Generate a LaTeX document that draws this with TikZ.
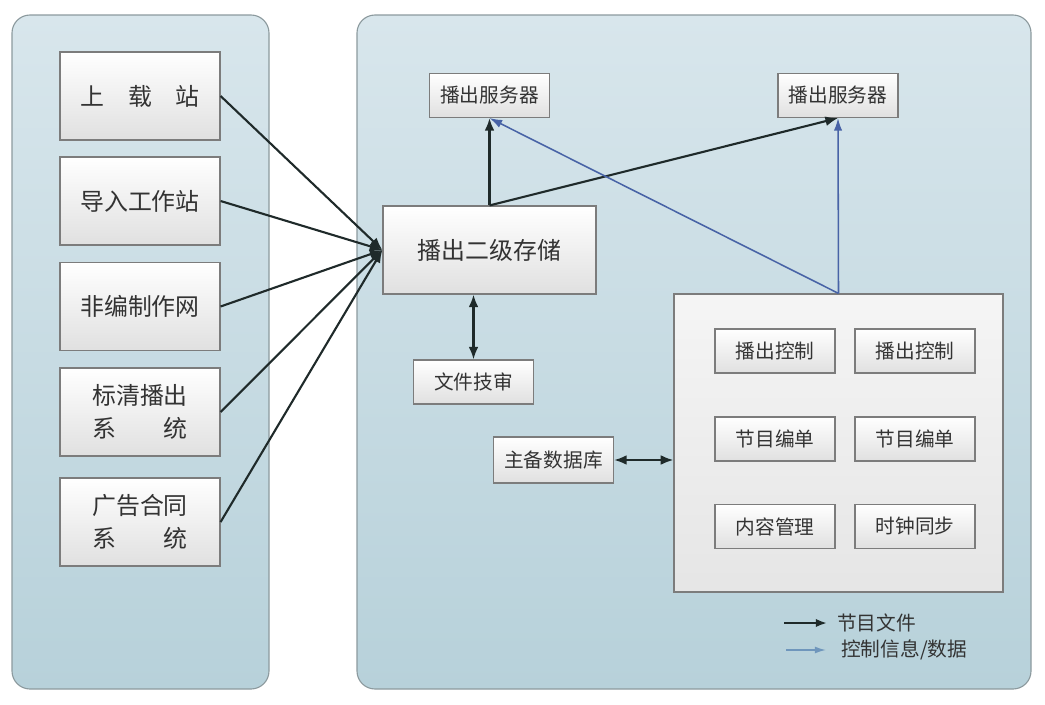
\documentclass[tikz,border=0pt]{standalone}
\usepackage{fontspec}
\newfontfamily\cjk{Noto Sans CJK SC}
\usetikzlibrary{arrows.meta}
\definecolor{panelTop}{HTML}{D8E6EC}
\definecolor{panelBot}{HTML}{B7D1DA}
\definecolor{panelLine}{HTML}{8C9A9E}
\definecolor{boxLine}{HTML}{7C7C7C}
\definecolor{boxBot}{HTML}{E0E0E0}
\definecolor{fileLine}{HTML}{1F2A2A}
\definecolor{ctrlLine}{HTML}{4863A6}
\definecolor{legendBlue}{HTML}{6F96BC}
\tikzset{
  panel/.style={draw=panelLine, line width=0.8pt, rounded corners=0.45cm,
    top color=panelTop, bottom color=panelBot},
  box/.style={draw=boxLine, line width=0.8pt, top color=white, bottom color=boxBot,
    text=black!80, inner sep=0pt, align=center},
  srcbox/.style={box, font=\cjk\fontsize{17}{23}\selectfont,
    minimum width=4cm, minimum height=2.2cm},
  smallbox/.style={box, font=\cjk\fontsize{14}{17}\selectfont,
    minimum width=3cm, minimum height=1.1cm},
  file/.style={draw=fileLine, line width=1.5pt, >={Latex[length=9pt,width=7pt]}, ->},
  ctrl/.style={draw=ctrlLine, line width=1.1pt, >={Latex[length=9pt,width=6pt]}, ->},
  legend/.style={font=\cjk\fontsize{14}{17}\selectfont, text=black!80, inner sep=0pt, anchor=west}
}
\begin{document}
\begin{tikzpicture}[x=0.025cm, y=-0.025cm]
      \useasboundingbox (0,0) rectangle (1045,704);
      % two panels
      \path[panel] (12,15) rectangle (269,689);
      \path[panel] (357,15) rectangle (1031,689);
      % sources
      \draw
        (140,96) node[srcbox] (upload){上\hspace{1em}载\hspace{1em}站}
        (140,201) node[srcbox] (import){导入工作站}
        (140,306.5) node[srcbox] (edit){非编制作网}
        (140,412) node[srcbox] (sdplay){标清播出\\系\hspace{2em}统}
        (140,522) node[srcbox] (adsys){广告合同\\系\hspace{2em}统};
      % playout side
      \draw
        (489.5,95.5) node[smallbox] (srvA){播出服务器}
        (838,95.5) node[smallbox] (srvB){播出服务器}
        (489.5,250) node[srcbox, minimum width=5.325cm] (store){播出二级存储}
        (473.5,382) node[smallbox] (check){文件技审}
        (553.5,460) node[smallbox, minimum height=1.15cm] (db){主备数据库}
        (838.5,443) node[box, top color=white!96!black, bottom color=white!90!black,
          minimum width=8.225cm, minimum height=7.45cm] (ctl){};
      \draw
        (775,351) node[smallbox] (ctlA){播出控制}
        (915,351) node[smallbox] (ctlB){播出控制}
        (775,439) node[smallbox] (listA){节目编单}
        (915,439) node[smallbox] (listB){节目编单}
        (775,526.5) node[smallbox] (cms){内容管理}
        (915,526.5) node[smallbox] (clock){时钟同步};
      % legend
      \coordinate (fileA) at (784,623);
      \coordinate (fileB) at (827,623);
      \coordinate (ctrlA) at (786,650);
      \coordinate (ctrlB) at (826,650);
      \node[legend] (fileTxt) at (837,623) {节目文件};
      \node[legend] (ctrlTxt) at (841,650) {控制信息/数据};
      \begin{scope}[file]
        \draw (upload.east) to (store.west);
        \draw (import.east) to (store.west);
        \draw (edit.east) to (store.west);
        \draw (sdplay.east) to (store.west);
        \draw (adsys.east) to (store.west);
        \draw (store.north) to (srvA.south);
        \draw (store.north) to (srvB.south);
        \draw[<->] (check.north) to (check.north |- store.south);
        \draw[<->] (db.east) to (db.east -| ctl.west);
        \draw[>={Latex[length=8pt,width=6pt]}] (fileA) to (fileB);
      \end{scope}
      \begin{scope}[ctrl]
        \draw (ctl.north) to (srvA.south);
        \draw (ctl.north) to (srvB.south);
        \draw[draw=legendBlue, >={Latex[length=8pt,width=5pt]}] (ctrlA) to (ctrlB);
      \end{scope}
    \end{tikzpicture}
\end{document}
